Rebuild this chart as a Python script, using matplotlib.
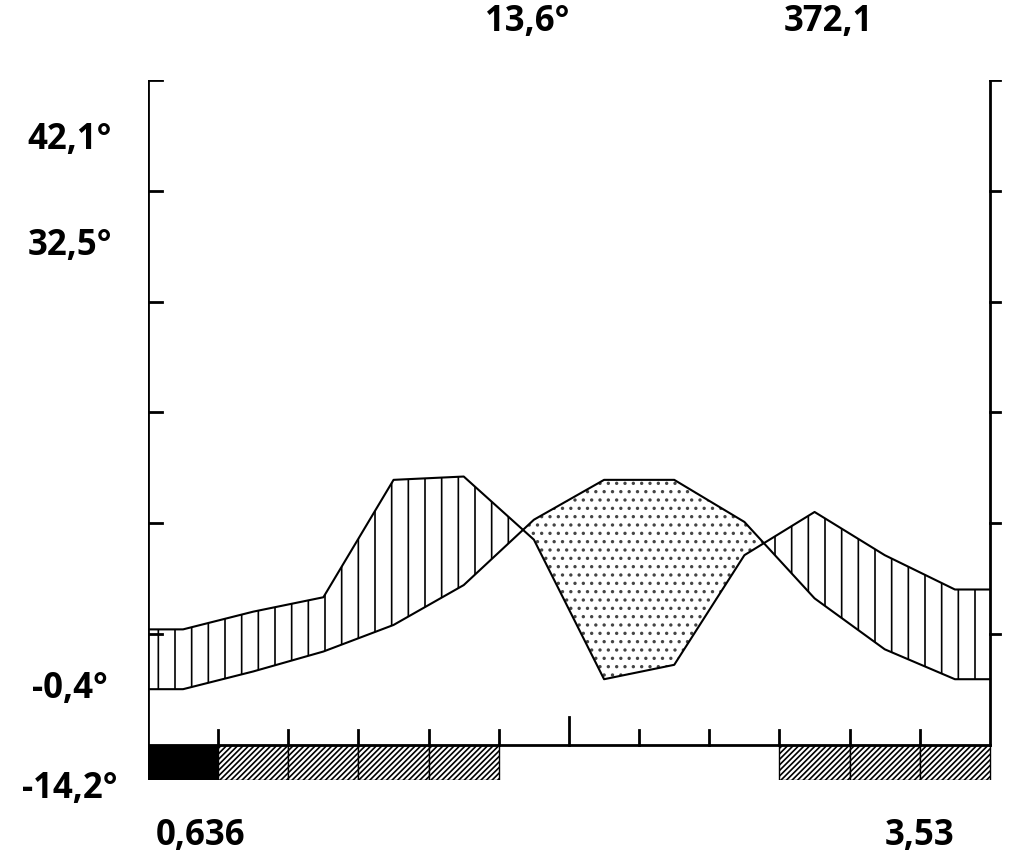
import numpy as np
import matplotlib
matplotlib.use("Agg")
import matplotlib.pyplot as plt
from matplotlib.patches import Rectangle

# monthly means (Jan..Dec)
temp_c = [5.0, 6.6, 8.4, 10.8, 14.4, 20.3, 23.9, 23.9, 20.1, 13.2, 8.6, 5.9]
precip_mm = [20.8, 24.0, 26.6, 47.8, 48.4, 37.0, 11.8, 14.4, 34.2, 42.0, 34.2, 28.0]
frost_sure = [1]                       # months with sure frost (black bar)
frost_possible = [2, 3, 4, 5, 10, 11, 12]  # months with possible frost (hatched)
left_labels = [("42,1°", 54.6), ("32,5°", 45.0), ("-0,4°", 5.0), ("-14,2°", -4.0)]
top_labels = [("13,6°", 5.4), ("372,1", 9.7)]
bottom_labels = [("0,636", 0.75), ("3,53", 11.0)]

plt.rcParams["font.family"] = ["Open Sans", "DejaVu Sans"]
fig = plt.figure(figsize=(10.24, 8.66), dpi=100)
ax = fig.add_axes([0.1445, 0.0993, 0.836, 0.8083])
ax.set_xlim(0, 12.2)
ax.set_ylim(-3.2, 60)
ax.axis("off")

x = np.concatenate([[0], np.arange(12) + 0.5, [12]])
t = np.array([temp_c[0]] + temp_c + [temp_c[-1]])
p = np.array(precip_mm) / 2.0
p = np.concatenate([[p[0]], p, [p[-1]]])

# fine grid for fills
xf = np.linspace(0, 12, 1201)
tf = np.interp(xf, x, t)
pf = np.interp(xf, x, p)
plt.rcParams["hatch.linewidth"] = 1.2
ax.fill_between(xf, tf, pf, where=pf >= tf, facecolor="white", edgecolor="black",
                hatch="|", linewidth=0, interpolate=True)
ax.fill_between(xf, tf, pf, where=tf >= pf, facecolor="white", edgecolor="#444444",
                hatch="..", linewidth=0, interpolate=True)
ax.plot(x, t, color="black", lw=1.5)
ax.plot(x, p, color="black", lw=1.5)

# axes frame
lw = 2
ax.plot([0, 0], [0, 60], color="black", lw=lw)
ax.plot([12, 12], [0, 60], color="black", lw=lw)
ax.plot([0, 12], [0, 0], color="black", lw=lw)
for yv in range(10, 61, 10):
    ax.plot([0, 0.2], [yv, yv], color="black", lw=lw)
    ax.plot([12, 12.14], [yv, yv], color="black", lw=lw)
for m in range(1, 12):
    h = 2.5 if m == 6 else 1.3
    ax.plot([m, m], [0, h], color="black", lw=lw)

# frost bars
for m in frost_sure:
    ax.add_patch(Rectangle((m - 1, -3.2), 1, 3.2, facecolor="black", edgecolor="black", lw=1))
for m in frost_possible:
    ax.add_patch(Rectangle((m - 1, -3.2), 1, 3.2, facecolor="white", edgecolor="black",
                           hatch="//////", lw=1))

fs = 25
for s, yv in left_labels:
    fig.text(0.068, ax.transData.transform((0, yv))[1] / fig.dpi / 8.66, s,
             ha="center", va="center", fontsize=fs, fontweight="bold")
for s, xv in top_labels:
    fig.text(ax.transData.transform((xv, 0))[0] / fig.dpi / 10.24, 0.975, s,
             ha="center", va="center", fontsize=fs, fontweight="bold")
for s, xv in bottom_labels:
    fig.text(ax.transData.transform((xv, 0))[0] / fig.dpi / 10.24, 0.035, s,
             ha="center", va="center", fontsize=fs, fontweight="bold")

fig.savefig("out.png", dpi=100, facecolor="white")
